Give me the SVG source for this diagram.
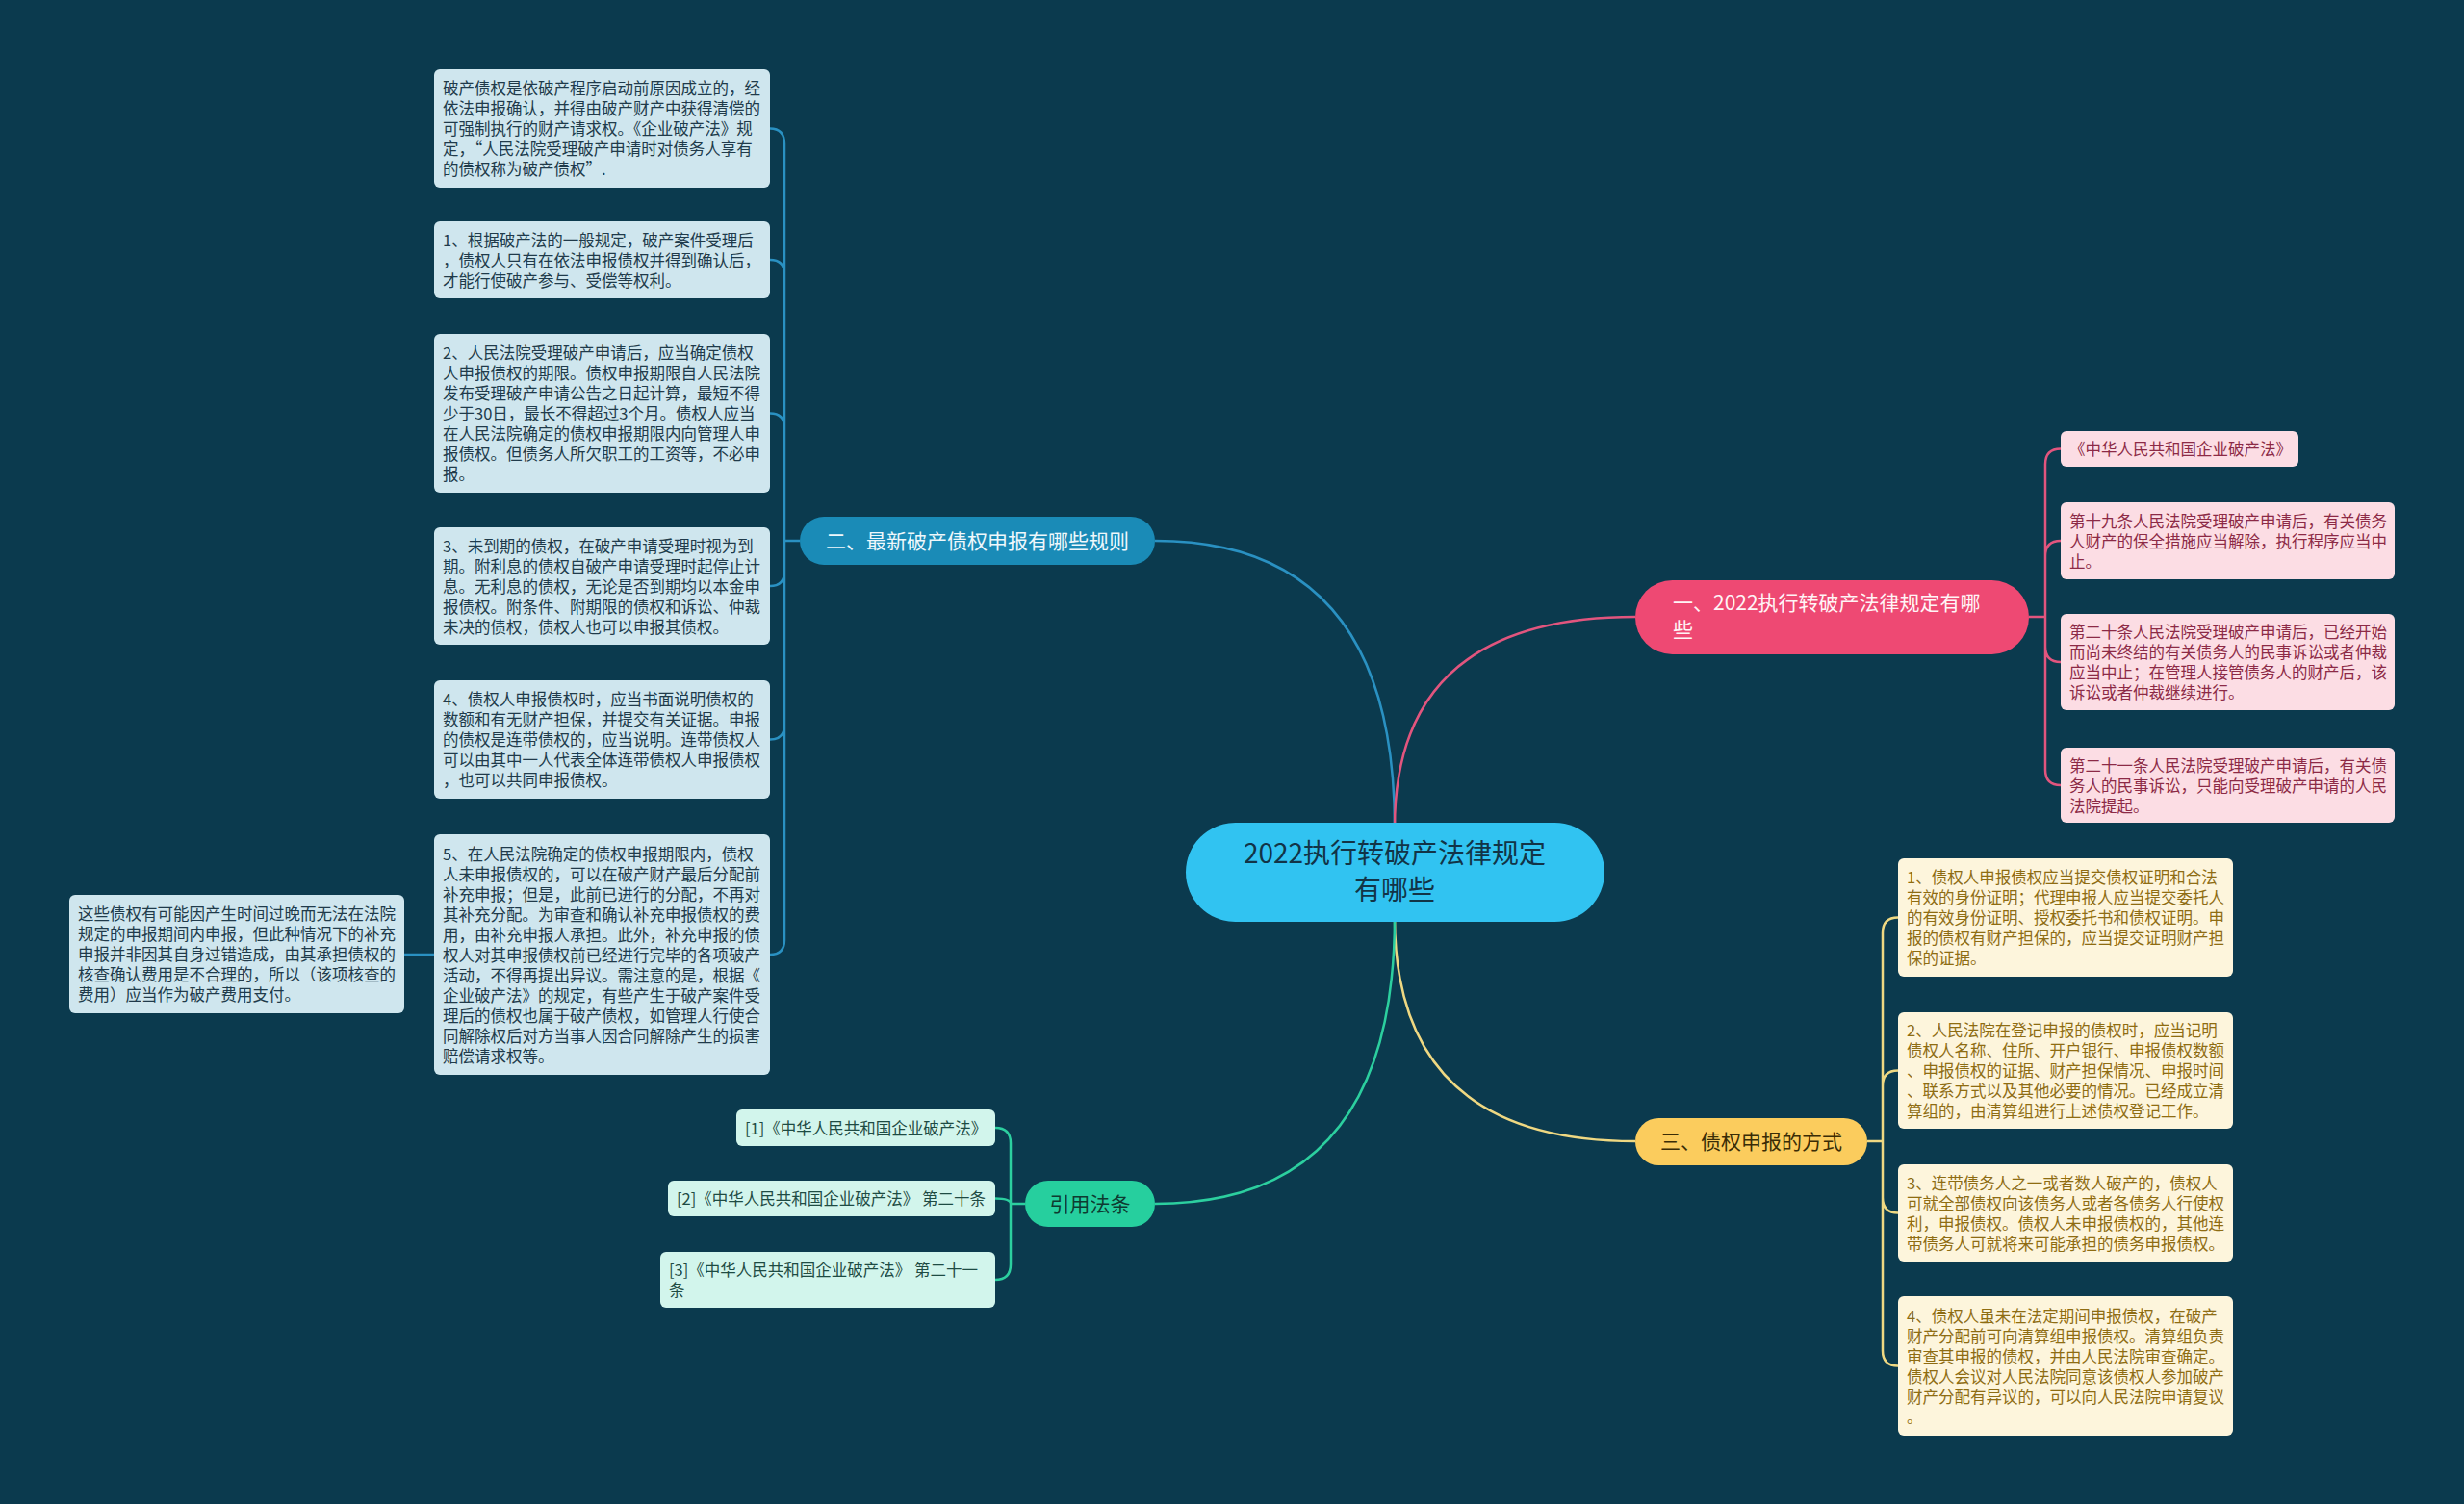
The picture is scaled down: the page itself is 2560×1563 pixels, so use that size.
<svg xmlns="http://www.w3.org/2000/svg" width="2560" height="1563" viewBox="0 0 2560 1563">
<style>
text{font-family:"Noto Sans CJK SC","Noto Sans",sans-serif;}
.t{font-size:16.5px;}
.lb{fill:#cfe6ee;} .lt{fill:#203a4a;}
.pb{fill:#fcdde4;} .pt{fill:#8c2a46;}
.yb{fill:#fdf5dc;} .yt{fill:#8e6c12;}
.gb{fill:#d2f5ec;} .gt{fill:#1e4b43;}
.cb{fill:none;stroke:#2a91c2;stroke-width:2.5;}
.cp{fill:none;stroke:#e2557e;stroke-width:2.5;}
.cy{fill:none;stroke:#efd882;stroke-width:2.5;}
.cg{fill:none;stroke:#2ccf9f;stroke-width:2.5;}
.bt{font-size:21px;}
</style>
<rect width="2560" height="1563" fill="#0b3a4e"/>
<g id="connectors">
<path class="cb" d="M1449,860 Q1449,562 1200,562"/>
<path class="cp" d="M1449,860 Q1449,641 1699,641"/>
<path class="cy" d="M1449,953 Q1449,1186 1699,1186"/>
<path class="cg" d="M1449,953 Q1449,1251 1200,1251"/>
<path class="cb" d="M831,562 H815 M815,562 V149.5 Q815,133.5 800,133.5 M815,562 V285 Q815,270 800,270 M815,562 V444.5 Q815,429.5 800,429.5 M815,562 V594 Q815,609 800,609 M815,562 V753.5 Q815,768.5 800,768.5 M815,562 V977 Q815,992 800,992 M451,992 H420"/>
<path class="cp" d="M2108,641 H2125 M2125,641 V482.5 Q2125,466.5 2141,466.5 M2125,641 V578 Q2125,562 2141,562 M2125,641 V672 Q2125,688 2141,688 M2125,641 V800 Q2125,816 2141,816"/>
<path class="cy" d="M1940,1186 H1956 M1956,1186 V969.5 Q1956,953.5 1972,953.5 M1956,1186 V1128.5 Q1956,1112.5 1972,1112.5 M1956,1186 V1244.5 Q1956,1260.5 1972,1260.5 M1956,1186 V1403.5 Q1956,1419.5 1972,1419.5"/>
<path class="cg" d="M1065,1251 H1050 M1050,1251 V1188 Q1050,1172 1034,1172 M1050,1251 Q1050,1245.5 1034,1245.5 M1050,1251 V1314 Q1050,1330 1034,1330"/>
</g>
<g id="center">
<rect x="1232" y="855" width="435" height="103" rx="51.5" fill="#31c3f1"/>
<text x="1449" y="897" text-anchor="middle" font-size="28" fill="#123447">2022执行转破产法律规定</text>
<text x="1449" y="935" text-anchor="middle" font-size="28" fill="#123447">有哪些</text>
</g>
<g id="branch1">
<rect x="1699" y="603" width="409" height="77" rx="38.5" fill="#ee4973"/>
<text class="bt" x="1738" y="634" fill="#fff4f6">一、2022执行转破产法律规定有哪</text>
<text class="bt" x="1738" y="662" fill="#fff4f6">些</text>
</g>
<g id="branch2">
<rect x="831" y="537" width="369" height="50" rx="25" fill="#1a8bb7"/>
<text class="bt" x="1015.5" y="570" text-anchor="middle" fill="#eef8fc">二、最新破产债权申报有哪些规则</text>
</g>
<g id="branch3">
<rect x="1699" y="1162" width="241" height="49" rx="24.5" fill="#fbcc5d"/>
<text class="bt" x="1819.5" y="1194" text-anchor="middle" fill="#3a2c06">三、债权申报的方式</text>
</g>
<g id="branch4">
<rect x="1065" y="1227" width="135" height="48" rx="24" fill="#26cf9e"/>
<text class="bt" x="1132.5" y="1259" text-anchor="middle" fill="#0e3b31">引用法条</text>
</g>
<g id="l0">
<rect class="lb" x="451" y="72" width="349" height="123" rx="6"/>
<text class="t lt"><tspan x="460" y="98">破产债权是依破产程序启动前原因成立的，经</tspan><tspan x="460" dy="21">依法申报确认，并得由破产财产中获得清偿的</tspan><tspan x="460" dy="21">可强制执行的财产请求权。《企业破产法》规</tspan><tspan x="460" dy="21">定，“人民法院受理破产申请时对债务人享有</tspan><tspan x="460" dy="21">的债权称为破产债权”.</tspan></text>
</g>
<g id="l1">
<rect class="lb" x="451" y="230" width="349" height="80" rx="6"/>
<text class="t lt"><tspan x="460" y="255.5">1、根据破产法的一般规定，破产案件受理后</tspan><tspan x="460" dy="21">，债权人只有在依法申报债权并得到确认后，</tspan><tspan x="460" dy="21">才能行使破产参与、受偿等权利。</tspan></text>
</g>
<g id="l2">
<rect class="lb" x="451" y="347" width="349" height="165" rx="6"/>
<text class="t lt"><tspan x="460" y="373">2、人民法院受理破产申请后，应当确定债权</tspan><tspan x="460" dy="21">人申报债权的期限。债权申报期限自人民法院</tspan><tspan x="460" dy="21">发布受理破产申请公告之日起计算，最短不得</tspan><tspan x="460" dy="21">少于30日，最长不得超过3个月。债权人应当</tspan><tspan x="460" dy="21">在人民法院确定的债权申报期限内向管理人申</tspan><tspan x="460" dy="21">报债权。但债务人所欠职工的工资等，不必申</tspan><tspan x="460" dy="21">报。</tspan></text>
</g>
<g id="l3">
<rect class="lb" x="451" y="548" width="349" height="122" rx="6"/>
<text class="t lt"><tspan x="460" y="573.5">3、未到期的债权，在破产申请受理时视为到</tspan><tspan x="460" dy="21">期。附利息的债权自破产申请受理时起停止计</tspan><tspan x="460" dy="21">息。无利息的债权，无论是否到期均以本金申</tspan><tspan x="460" dy="21">报债权。附条件、附期限的债权和诉讼、仲裁</tspan><tspan x="460" dy="21">未决的债权，债权人也可以申报其债权。</tspan></text>
</g>
<g id="l4">
<rect class="lb" x="451" y="707" width="349" height="123" rx="6"/>
<text class="t lt"><tspan x="460" y="733">4、债权人申报债权时，应当书面说明债权的</tspan><tspan x="460" dy="21">数额和有无财产担保，并提交有关证据。申报</tspan><tspan x="460" dy="21">的债权是连带债权的，应当说明。连带债权人</tspan><tspan x="460" dy="21">可以由其中一人代表全体连带债权人申报债权</tspan><tspan x="460" dy="21">，也可以共同申报债权。</tspan></text>
</g>
<g id="l5">
<rect class="lb" x="451" y="867" width="349" height="250" rx="6"/>
<text class="t lt"><tspan x="460" y="893.5">5、在人民法院确定的债权申报期限内，债权</tspan><tspan x="460" dy="21">人未申报债权的，可以在破产财产最后分配前</tspan><tspan x="460" dy="21">补充申报；但是，此前已进行的分配，不再对</tspan><tspan x="460" dy="21">其补充分配。为审查和确认补充申报债权的费</tspan><tspan x="460" dy="21">用，由补充申报人承担。此外，补充申报的债</tspan><tspan x="460" dy="21">权人对其申报债权前已经进行完毕的各项破产</tspan><tspan x="460" dy="21">活动，不得再提出异议。需注意的是，根据《</tspan><tspan x="460" dy="21">企业破产法》的规定，有些产生于破产案件受</tspan><tspan x="460" dy="21">理后的债权也属于破产债权，如管理人行使合</tspan><tspan x="460" dy="21">同解除权后对方当事人因合同解除产生的损害</tspan><tspan x="460" dy="21">赔偿请求权等。</tspan></text>
</g>
<g id="note">
<rect class="lb" x="72" y="930" width="348" height="123" rx="6"/>
<text class="t lt"><tspan x="81" y="956">这些债权有可能因产生时间过晚而无法在法院</tspan><tspan x="81" dy="21">规定的申报期间内申报，但此种情况下的补充</tspan><tspan x="81" dy="21">申报并非因其自身过错造成，由其承担债权的</tspan><tspan x="81" dy="21">核查确认费用是不合理的，所以（该项核查的</tspan><tspan x="81" dy="21">费用）应当作为破产费用支付。</tspan></text>
</g>
<g id="p0">
<rect class="pb" x="2141" y="448" width="247" height="37" rx="6"/>
<text class="t pt" x="2150" y="473">《中华人民共和国企业破产法》</text>
</g>
<g id="p1">
<rect class="pb" x="2141" y="522" width="347" height="80" rx="6"/>
<text class="t pt"><tspan x="2150" y="547.5">第十九条人民法院受理破产申请后，有关债务</tspan><tspan x="2150" dy="21">人财产的保全措施应当解除，执行程序应当中</tspan><tspan x="2150" dy="21">止。</tspan></text>
</g>
<g id="p2">
<rect class="pb" x="2141" y="638" width="347" height="100" rx="6"/>
<text class="t pt"><tspan x="2150" y="663">第二十条人民法院受理破产申请后，已经开始</tspan><tspan x="2150" dy="21">而尚未终结的有关债务人的民事诉讼或者仲裁</tspan><tspan x="2150" dy="21">应当中止；在管理人接管债务人的财产后，该</tspan><tspan x="2150" dy="21">诉讼或者仲裁继续进行。</tspan></text>
</g>
<g id="p3">
<rect class="pb" x="2141" y="777" width="347" height="78" rx="6"/>
<text class="t pt"><tspan x="2150" y="801.5">第二十一条人民法院受理破产申请后，有关债</tspan><tspan x="2150" dy="21">务人的民事诉讼，只能向受理破产申请的人民</tspan><tspan x="2150" dy="21">法院提起。</tspan></text>
</g>
<g id="y0">
<rect class="yb" x="1972" y="892" width="348" height="123" rx="6"/>
<text class="t yt"><tspan x="1981" y="918">1、债权人申报债权应当提交债权证明和合法</tspan><tspan x="1981" dy="21">有效的身份证明；代理申报人应当提交委托人</tspan><tspan x="1981" dy="21">的有效身份证明、授权委托书和债权证明。申</tspan><tspan x="1981" dy="21">报的债权有财产担保的，应当提交证明财产担</tspan><tspan x="1981" dy="21">保的证据。</tspan></text>
</g>
<g id="y1">
<rect class="yb" x="1972" y="1052" width="348" height="121" rx="6"/>
<text class="t yt"><tspan x="1981" y="1077">2、人民法院在登记申报的债权时，应当记明</tspan><tspan x="1981" dy="21">债权人名称、住所、开户银行、申报债权数额</tspan><tspan x="1981" dy="21">、申报债权的证据、财产担保情况、申报时间</tspan><tspan x="1981" dy="21">、联系方式以及其他必要的情况。已经成立清</tspan><tspan x="1981" dy="21">算组的，由清算组进行上述债权登记工作。</tspan></text>
</g>
<g id="y2">
<rect class="yb" x="1972" y="1210" width="348" height="101" rx="6"/>
<text class="t yt"><tspan x="1981" y="1235.5">3、连带债务人之一或者数人破产的，债权人</tspan><tspan x="1981" dy="21">可就全部债权向该债务人或者各债务人行使权</tspan><tspan x="1981" dy="21">利，申报债权。债权人未申报债权的，其他连</tspan><tspan x="1981" dy="21">带债务人可就将来可能承担的债务申报债权。</tspan></text>
</g>
<g id="y3">
<rect class="yb" x="1972" y="1347" width="348" height="145" rx="6"/>
<text class="t yt"><tspan x="1981" y="1373.5">4、债权人虽未在法定期间申报债权，在破产</tspan><tspan x="1981" dy="21">财产分配前可向清算组申报债权。清算组负责</tspan><tspan x="1981" dy="21">审查其申报的债权，并由人民法院审查确定。</tspan><tspan x="1981" dy="21">债权人会议对人民法院同意该债权人参加破产</tspan><tspan x="1981" dy="21">财产分配有异议的，可以向人民法院申请复议</tspan><tspan x="1981" dy="21">。</tspan></text>
</g>
<g id="c0">
<rect class="gb" x="765" y="1153" width="269" height="38" rx="6"/>
<text class="t gt" x="774" y="1178.5">[1]《中华人民共和国企业破产法》</text>
</g>
<g id="c1">
<rect class="gb" x="694" y="1227" width="340" height="37" rx="6"/>
<text class="t gt" x="703" y="1252">[2]《中华人民共和国企业破产法》 第二十条</text>
</g>
<g id="c2">
<rect class="gb" x="686" y="1301" width="348" height="58" rx="6"/>
<text class="t gt"><tspan x="695" y="1326">[3]《中华人民共和国企业破产法》 第二十一</tspan><tspan x="695" dy="21">条</tspan></text>
</g>
</svg>
